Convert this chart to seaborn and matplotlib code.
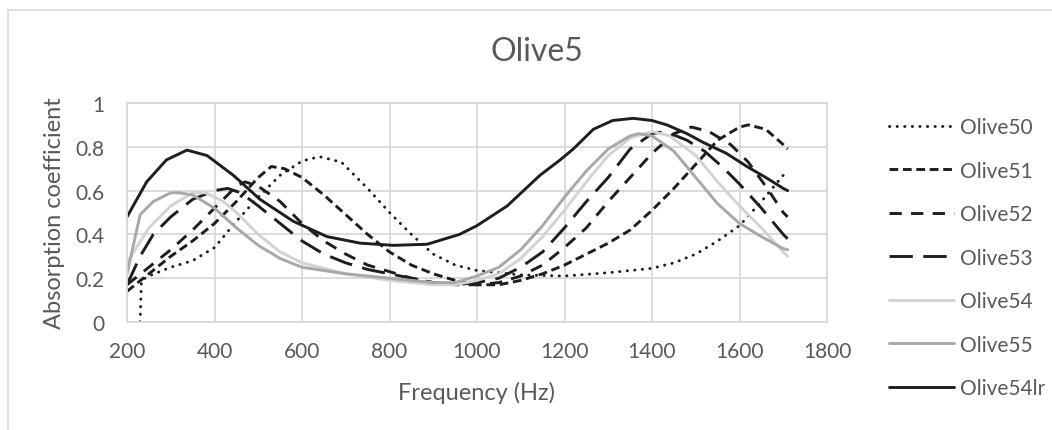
import matplotlib
matplotlib.use("Agg")
import matplotlib.pyplot as plt
import seaborn as sns
import pandas as pd
from matplotlib.lines import Line2D

# ---------------- data ----------------
title = "Olive5"
x_label = "Frequency (Hz)"
y_label = "Absorption coefficient"
x_ticks = [200, 400, 600, 800, 1000, 1200, 1400, 1600, 1800]
y_ticks = [0, 0.2, 0.4, 0.6, 0.8, 1]
y_tick_labels = ["0", "0.2", "0.4", "0.6", "0.8", "1"]
series_names = ["Olive50", "Olive51", "Olive52", "Olive53", "Olive54", "Olive55", "Olive54lr"]

f_olive50 = [230, 233, 250, 300, 350, 400, 450, 500, 550, 600, 640, 690, 750, 800, 850, 900, 950, 1000,
             1100, 1200, 1300, 1400, 1450, 1500, 1550, 1600, 1650, 1700, 1710]
v_olive50 = [0.00, 0.19, 0.21, 0.25, 0.28, 0.34, 0.46, 0.57, 0.67, 0.735, 0.755, 0.73, 0.61, 0.50, 0.40,
             0.31, 0.26, 0.235, 0.215, 0.21, 0.225, 0.245, 0.27, 0.31, 0.37, 0.44, 0.55, 0.67, 0.69]

f_olive51 = [200, 250, 300, 350, 400, 450, 500, 530, 560, 600, 650, 700, 750, 800, 850, 900, 950, 1000,
             1050, 1100, 1150, 1200, 1250, 1300, 1350, 1400, 1450, 1500, 1550, 1600, 1620, 1660, 1700, 1710]
v_olive51 = [0.14, 0.22, 0.30, 0.37, 0.45, 0.55, 0.66, 0.71, 0.70, 0.66, 0.58, 0.49, 0.40, 0.32, 0.26,
             0.22, 0.19, 0.17, 0.17, 0.19, 0.22, 0.26, 0.31, 0.36, 0.42, 0.51, 0.61, 0.72, 0.83, 0.89,
             0.90, 0.88, 0.81, 0.79]

f_olive52 = [200, 250, 300, 350, 400, 450, 470, 500, 550, 600, 650, 700, 750, 800, 850, 900, 950, 1000,
             1050, 1100, 1150, 1200, 1250, 1300, 1350, 1400, 1450, 1490, 1530, 1580, 1620, 1660, 1700, 1710]
v_olive52 = [0.17, 0.25, 0.33, 0.42, 0.52, 0.62, 0.64, 0.62, 0.55, 0.45, 0.37, 0.31, 0.26, 0.23, 0.20,
             0.18, 0.17, 0.17, 0.18, 0.21, 0.26, 0.34, 0.43, 0.55, 0.66, 0.77, 0.86, 0.89, 0.87, 0.81,
             0.73, 0.62, 0.50, 0.48]

f_olive53 = [200, 230, 260, 300, 350, 400, 430, 460, 500, 550, 600, 650, 700, 750, 800, 850, 900, 950,
             1000, 1050, 1100, 1150, 1200, 1250, 1300, 1350, 1400, 1430, 1480, 1520, 1560, 1600, 1650,
             1700, 1710]
v_olive53 = [0.17, 0.30, 0.40, 0.48, 0.56, 0.60, 0.61, 0.59, 0.53, 0.45, 0.37, 0.31, 0.27, 0.24, 0.22,
             0.20, 0.18, 0.17, 0.18, 0.20, 0.25, 0.32, 0.43, 0.55, 0.66, 0.79, 0.86, 0.87, 0.83, 0.78,
             0.71, 0.63, 0.52, 0.40, 0.38]

f_olive54 = [200, 250, 300, 350, 380, 420, 450, 500, 550, 600, 700, 800, 900, 950, 1000, 1050, 1100,
             1150, 1200, 1250, 1300, 1350, 1400, 1440, 1500, 1550, 1600, 1650, 1700, 1710]
v_olive54 = [0.27, 0.43, 0.53, 0.59, 0.59, 0.55, 0.50, 0.40, 0.32, 0.27, 0.22, 0.19, 0.17, 0.17, 0.19,
             0.22, 0.29, 0.39, 0.51, 0.64, 0.76, 0.84, 0.87, 0.85, 0.76, 0.64, 0.53, 0.43, 0.32, 0.30]

f_olive55 = [200, 230, 260, 300, 320, 350, 400, 450, 500, 550, 600, 700, 800, 900, 950, 1000, 1050,
             1100, 1150, 1200, 1250, 1300, 1350, 1370, 1400, 1450, 1500, 1550, 1600, 1650, 1700, 1710]
v_olive55 = [0.22, 0.49, 0.55, 0.59, 0.59, 0.58, 0.52, 0.43, 0.35, 0.29, 0.25, 0.22, 0.20, 0.18, 0.18,
             0.21, 0.25, 0.33, 0.44, 0.57, 0.69, 0.79, 0.85, 0.86, 0.85, 0.78, 0.66, 0.54, 0.45, 0.39,
             0.335, 0.33]

f_olive54lr = [200, 245, 290, 337, 383, 443, 504, 580, 657, 733, 809, 886, 960, 1000, 1069, 1144, 1190,
               1220, 1266, 1310, 1357, 1400, 1434, 1480, 1517, 1570, 1617, 1660, 1700, 1710]
v_olive54lr = [0.48, 0.64, 0.74, 0.785, 0.76, 0.67, 0.56, 0.46, 0.39, 0.36, 0.35, 0.355, 0.40, 0.44,
               0.53, 0.67, 0.74, 0.79, 0.88, 0.92, 0.93, 0.92, 0.90, 0.86, 0.82, 0.77, 0.71, 0.66, 0.61, 0.60]

freqs = [f_olive50, f_olive51, f_olive52, f_olive53, f_olive54, f_olive55, f_olive54lr]
values = [v_olive50, v_olive51, v_olive52, v_olive53, v_olive54, v_olive55, v_olive54lr]

# ---------------- styles ----------------
black = "#1e1e1e"
colors = [black, black, black, black, "#d3d3d3", "#a8a8a8", black]
dashes = [(0.1, 2.5), (3, 1.6), (4.2, 3.2), (8, 3.6), None, None, None]
lw = 2.1
text_color = "#595959"
grid_color = "#d9d9d9"

sns.set_theme(style="white")
plt.rcParams["font.family"] = ["Lato", "DejaVu Sans"]

fig = plt.figure(figsize=(10.52, 4.31), dpi=100)
ax = fig.add_axes([127 / 1052, 1 - 323 / 431, 700 / 1052, 219 / 431])

handles = []
for name, fx, vy, col, dsh in zip(series_names, freqs, values, colors, dashes):
    df = pd.DataFrame({"freq": fx, "value": vy})
    sns.lineplot(data=df, x="freq", y="value", ax=ax, color=col, linewidth=lw,
                 estimator=None, sort=False, legend=False)
    line = ax.lines[-1]
    line.set_solid_joinstyle("round")
    line.set_dash_joinstyle("round")
    if dsh is not None:
        line.set_dashes(dsh)
        if dsh[0] < 1:
            line.set_dash_capstyle("round")
    h = Line2D([0], [0], color=col, linewidth=lw)
    if dsh is not None:
        h.set_dashes(dsh)
        if dsh[0] < 1:
            h.set_dash_capstyle("round")
    handles.append(h)

ax.set_xlim(200, 1800)
ax.set_ylim(0, 1)
ax.set_xticks(x_ticks)
ax.set_xticklabels([str(t) for t in x_ticks])
ax.set_yticks(y_ticks)
ax.set_yticklabels(y_tick_labels)
ax.grid(True, color=grid_color, linewidth=1.3)
ax.set_axisbelow(True)
for sp in ax.spines.values():
    sp.set_color(grid_color)
    sp.set_linewidth(1.3)
ax.tick_params(axis="both", colors=text_color, labelsize=15, length=0)
ax.tick_params(axis="x", pad=14)
ax.tick_params(axis="y", pad=16)
ax.set_xlabel(x_label, color=text_color, fontsize=17, labelpad=14)
ax.set_ylabel(y_label, color=text_color, fontsize=17, labelpad=8)

fig.text(537 / 1052, 1 - 52 / 431, title, ha="center", va="center", color=text_color, fontsize=23)

leg = fig.legend(handles, series_names, loc="upper left",
                 bbox_to_anchor=(889 / 1052, 1 - 118 / 431), frameon=False,
                 fontsize=15, handlelength=3.1, handletextpad=0.3, labelspacing=1.13,
                 borderaxespad=0, borderpad=0)
for t in leg.get_texts():
    t.set_color(text_color)

# outer chart frame (left and top edges visible)
fig.add_artist(Line2D([8 / 1052, 8 / 1052], [0, 1 - 11 / 431], transform=fig.transFigure,
                      color=grid_color, linewidth=1.2))
fig.add_artist(Line2D([8 / 1052, 1], [1 - 11 / 431, 1 - 11 / 431], transform=fig.transFigure,
                      color=grid_color, linewidth=1.2))

fig.savefig("out.png", dpi=100)
